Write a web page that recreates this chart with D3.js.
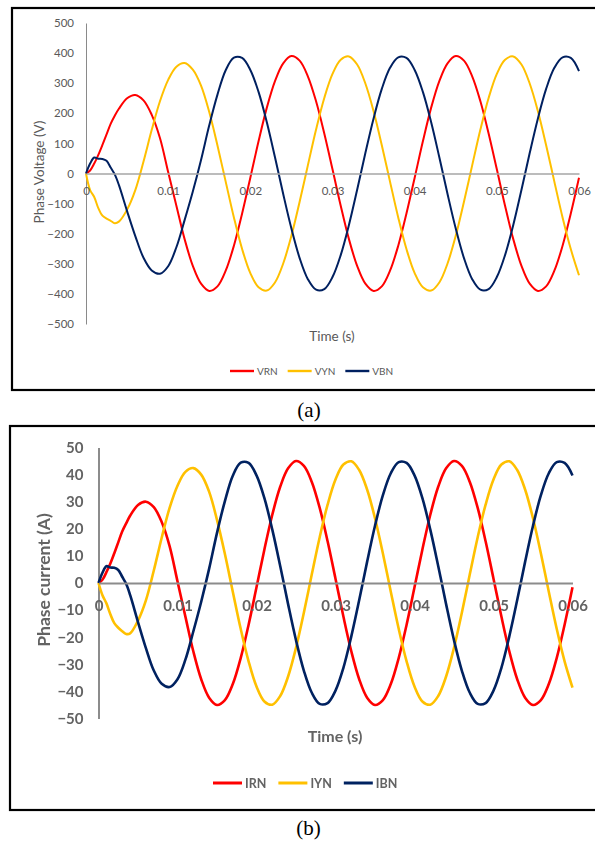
<!DOCTYPE html>
<html>
<head>
<meta charset="utf-8">
<script src="https://cdn.jsdelivr.net/npm/d3@7"></script>
<style>
  body { margin: 0; background: #fff; }
  svg { display: block; }
</style>
</head>
<body>
<svg id="fig" width="595" height="843"></svg>
<script>
// Sample instants in milliseconds (finer steps during the start-up transient)
const timeMs = [0,0.5,1,1.5,2,2.5,3,3.5,4,5,6,7,8,9,10,11,12,13,14,15,16,17,18,19,20,
  21,22,23,24,25,26,27,28,29,30,31,32,33,34,35,36,37,38,39,40,
  41,42,43,44,45,46,47,48,49,50,51,52,53,54,55,56,57,58,59,60];

// Phase voltages (V)
const vRN = [0,10,33,62,95,130,165,192,215, 250,261,243,195,118,5,
  -107,-218,-307,-366,-390,-375,-323,-240,-133,
  -14,107,218,307,366,390,375,323,240,133,14,-107,-218,-307,-366,-390,-375,-323,-240,-133,
  -14,107,218,307,366,390,375,323,240,133,14,-107,-218,-307,-366,-390,-375,-323,-240,-133,
  -14];
const vYN = [0,-55,-78,-115,-140,-150,-157,-165,-160, -120,-55,40,145,240,311,
  355,367,345,292,204,93,-27,-146,-251,
  -331,-378,-389,-362,-299,-207,-94,27,146,251,331,378,389,362,299,207,94,-27,-146,-251,
  -331,-378,-389,-362,-299,-207,-94,27,146,251,331,378,389,362,299,207,94,-27,-146,-251,
  -338];
const vBN = [0,33,53,49,48,42,20,-3,-38, -125,-208,-280,-322,-333,-308,
  -245,-155,-60,45,160,262,343,385,384,
  344,271,171,54,-68,-183,-281,-351,-386,-384,-344,-271,-171,-54,68,183,281,351,386,384,
  344,271,171,54,-68,-183,-281,-351,-386,-384,-344,-271,-171,-54,68,183,281,351,386,384,
  340];

// Phase currents (A)
const iRN = [0,1.2,4,7.2,11,15,19,22,24.8, 28.8,30,28,22.5,13.6,0.6,
  -12.4,-25.2,-35.5,-42.3,-45,-43.2,-37.3,-27.7,-15.4,
  -1.6,12.4,25.2,35.5,42.3,45,43.2,37.3,27.7,15.4,1.6,-12.4,-25.2,-35.5,-42.3,-45,-43.2,-37.3,-27.7,-15.4,
  -1.6,12.4,25.2,35.5,42.3,45,43.2,37.3,27.7,15.4,1.6,-12.4,-25.2,-35.5,-42.3,-45,-43.2,-37.3,-27.7,-15.4,
  -1.6];
const iYN = [0,-4.5,-7.5,-11.5,-14.8,-16.5,-17.8,-18.8,-18.6, -13.9,-6.4,4.6,16.7,27.7,35.9,
  41,42.4,40,33.7,23.3,10.7,-3.2,-16.9,-28.9,
  -38.2,-43.7,-44.9,-41.7,-34.5,-23.9,-10.9,3.2,16.9,28.9,38.2,43.7,44.9,41.7,34.5,23.9,10.9,-3.2,-16.9,-28.9,
  -38.2,-43.7,-44.9,-41.7,-34.5,-23.9,-10.9,3.2,16.9,28.9,38.2,43.7,44.9,41.7,34.5,23.9,10.9,-3.2,-16.9,-28.9,
  -38.6];
const iBN = [0,3.8,6.2,5.7,5.6,4.8,2.3,-0.3,-4.4, -14.4,-24,-32.3,-37.2,-38.4,-35.5,
  -28.3,-17.9,-6.9,5.2,18.5,30.2,39.6,44.4,44.3,
  39.7,31.3,19.7,6.3,-7.8,-21.1,-32.4,-40.5,-44.6,-44.3,-39.7,-31.3,-19.7,-6.3,7.8,21.1,32.4,40.5,44.6,44.3,
  39.7,31.3,19.7,6.3,-7.8,-21.1,-32.4,-40.5,-44.6,-44.3,-39.7,-31.3,-19.7,-6.3,7.8,21.1,32.4,40.5,44.6,44.3,
  39.7];

// Axis ticks and labels
const xTicks = [0, 0.01, 0.02, 0.03, 0.04, 0.05, 0.06];
const xTickLabels = ["0", "0.01", "0.02", "0.03", "0.04", "0.05", "0.06"];
const vTicks = [500, 400, 300, 200, 100, 0, -100, -200, -300, -400, -500];
const iTicks = [50, 40, 30, 20, 10, 0, -10, -20, -30, -40, -50];

const voltageNames = ["VRN", "VYN", "VBN"];
const currentNames = ["IRN", "IYN", "IBN"];
const phaseColors = ["#ff0000", "#ffc000", "#002060"];

const svg = d3.select("#fig");
const defs = svg.append("defs");
defs.append("filter").attr("id", "soft")
  .attr("x", "-5%").attr("y", "-5%").attr("width", "110%").attr("height", "110%")
  .append("feGaussianBlur").attr("stdDeviation", 0.7);

function drawPanel(o) {
  const root = svg.append("g");
  root.append("rect")
    .attr("x", o.box[0]).attr("y", o.box[1])
    .attr("width", o.box[2]).attr("height", o.box[3])
    .attr("fill", "none").attr("stroke", "#000").attr("stroke-width", 2.2);

  const g = root.append("g");
  if (o.blur) g.attr("filter", "url(#soft)");

  const x = d3.scaleLinear().domain([0, 0.06]).range(o.xRange);
  const y = d3.scaleLinear().domain([-o.yMax, o.yMax]).range(o.yRange);

  // Vertical value axis
  const ya = g.append("g")
    .attr("transform", `translate(${o.xRange[0]},0)`)
    .call(d3.axisLeft(y).tickValues(o.yTicks).tickSize(0).tickPadding(o.yPad));
  ya.select(".domain").attr("stroke", o.axisColor).attr("stroke-width", o.yAxisWidth);
  ya.selectAll("text").attr("fill", o.textColor)
    .style("font-family", "Lato, 'Open Sans', sans-serif")
    .style("font-size", o.tickSize + "px").style("font-weight", o.weight);

  // Series
  const line = d3.line()
    .x((d, i) => x(timeMs[i] / 1000))
    .y(d => y(d))
    .curve(d3.curveCatmullRom.alpha(0.5));
  o.series.forEach((s, k) => {
    g.append("path").datum(s)
      .attr("fill", "none")
      .attr("stroke", phaseColors[k])
      .attr("stroke-width", o.lineWidth)
      .attr("stroke-linejoin", "round")
      .attr("d", line);
  });

  // Time axis on the zero line
  const xa = g.append("g")
    .attr("transform", `translate(0,${y(0)})`)
    .call(d3.axisBottom(x).tickValues(xTicks)
      .tickFormat((d, i) => xTickLabels[i]).tickSize(0).tickPadding(o.xPad));
  xa.select(".domain").attr("stroke", o.zeroColor).attr("stroke-width", o.zeroWidth);
  xa.selectAll("text").attr("fill", o.textColor)
    .style("font-family", "Lato, 'Open Sans', sans-serif")
    .style("font-size", o.tickSize + "px").style("font-weight", o.weight);

  // Axis titles
  g.append("text")
    .attr("transform", `translate(${o.yTitlePos[0]},${o.yTitlePos[1]}) rotate(-90)`)
    .attr("text-anchor", "middle").attr("dominant-baseline", "central")
    .attr("fill", o.textColor)
    .style("font-family", "Lato, 'Open Sans', sans-serif")
    .style("font-size", o.titleSize + "px").style("font-weight", o.weight)
    .text(o.yTitle);
  g.append("text")
    .attr("x", o.xTitlePos[0]).attr("y", o.xTitlePos[1])
    .attr("text-anchor", "middle").attr("dominant-baseline", "central")
    .attr("fill", o.textColor)
    .style("font-family", "Lato, 'Open Sans', sans-serif")
    .style("font-size", o.xTitleSize + "px").style("font-weight", o.weight)
    .text("Time (s)");

  // Legend
  let lx = o.legend[0];
  const ly = o.legend[1];
  o.names.forEach((n, k) => {
    g.append("line")
      .attr("x1", lx).attr("x2", lx + o.legendLine)
      .attr("y1", ly).attr("y2", ly)
      .attr("stroke", phaseColors[k]).attr("stroke-width", o.lineWidth + 0.4);
    const t = g.append("text")
      .attr("x", lx + o.legendLine + 3).attr("y", ly)
      .attr("dominant-baseline", "central")
      .attr("fill", o.textColor)
      .style("font-family", "Lato, 'Open Sans', sans-serif")
      .style("font-size", o.legendSize + "px").style("font-weight", o.weight)
      .text(n);
    lx += o.legendLine + 3 + t.node().getComputedTextLength() + o.legendGap;
  });

  // Sub-figure caption
  root.append("text")
    .attr("x", o.caption[0]).attr("y", o.caption[1])
    .attr("text-anchor", "middle").attr("dominant-baseline", "central")
    .attr("fill", "#000")
    .style("font-family", "'Liberation Serif', 'Times New Roman', serif")
    .style("font-size", "21px")
    .text(o.captionText);
}

drawPanel({
  box: [12, 8, 600, 382],
  xRange: [86, 579], yRange: [324, 23], yMax: 500, yTicks: vTicks,
  yPad: 12, xPad: 13,
  axisColor: "#8a8a8a", yAxisWidth: 1, zeroColor: "#a6a6a6", zeroWidth: 1.6,
  textColor: "#595959", weight: 400, tickSize: 11.5,
  titleSize: 13.5, xTitleSize: 13.5,
  yTitle: "Phase Voltage (V)", yTitlePos: [39, 172], xTitlePos: [332, 336],
  series: [vRN, vYN, vBN], names: voltageNames, lineWidth: 2,
  legend: [230, 371], legendLine: 24, legendGap: 10, legendSize: 10,
  caption: [309, 410], captionText: "(a)", blur: false
});

drawPanel({
  box: [10, 426, 600, 384],
  xRange: [98.5, 572.5], yRange: [718.5, 447.5], yMax: 50, yTicks: iTicks,
  yPad: 15, xPad: 17,
  axisColor: "#8c8c8c", yAxisWidth: 2, zeroColor: "#8c8c8c", zeroWidth: 2,
  textColor: "#636363", weight: 700, tickSize: 15,
  titleSize: 17.5, xTitleSize: 16,
  yTitle: "Phase current (A)", yTitlePos: [43, 580], xTitlePos: [335, 735],
  series: [iRN, iYN, iBN], names: currentNames, lineWidth: 2.6,
  legend: [213, 783], legendLine: 29, legendGap: 12, legendSize: 12.5,
  caption: [308.5, 828], captionText: "(b)", blur: true
});
</script>
</body>
</html>
